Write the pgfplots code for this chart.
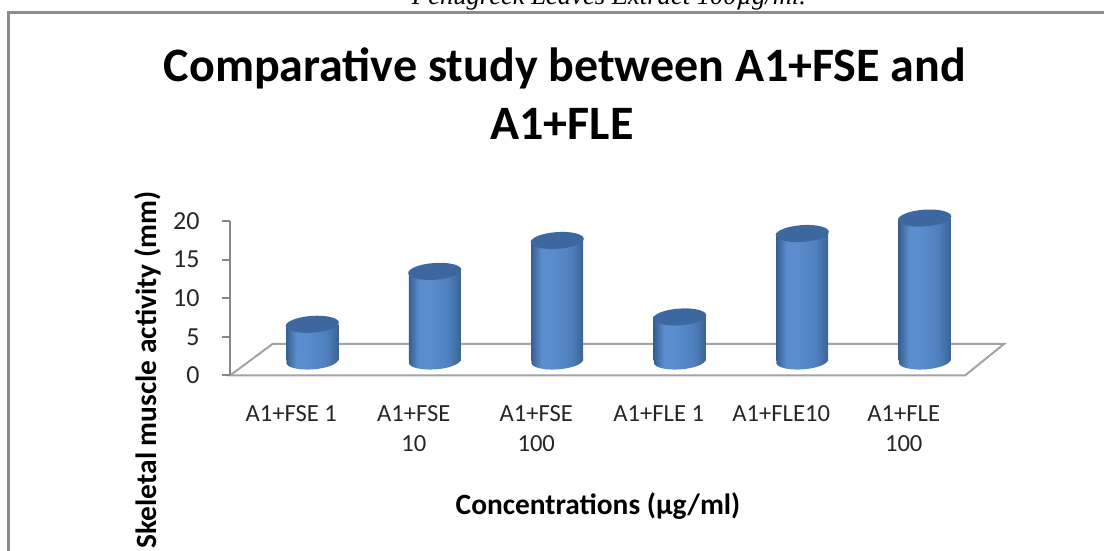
\documentclass[border=0pt]{standalone}
\usepackage{pgfplots}
\pgfplotsset{compat=1.18}
\usepackage{fontspec}
\setmainfont{Carlito}
\newfontfamily\capfont{Liberation Serif}
\definecolor{axgray}{HTML}{878787}
\definecolor{floorgray}{HTML}{A3A3A3}
\definecolor{framegray}{HTML}{8C8C8C}
\definecolor{cyltopc}{HTML}{3D689F}
\definecolor{cedgeL}{HTML}{385F91}
\definecolor{chigh}{HTML}{5A8DCE}
\definecolor{cmid}{HTML}{4F80BE}
\definecolor{cedgeR}{HTML}{3A6395}
\pgfdeclarehorizontalshading{cylshade}{100bp}{color(0bp)=(cedgeL); color(25bp)=(cedgeL); color(35bp)=(chigh); color(45bp)=(chigh); color(63bp)=(cmid); color(75bp)=(cedgeR); color(100bp)=(cedgeR)}
\pgfdeclareplotmark{cyltop}{%
  \pgfpathellipse{\pgfpointorigin}{\pgfpointpolar{4}{13.3pt}}{\pgfpointpolar{94}{4.2pt}}%
  \pgfusepath{fill}}
\pgfdeclareplotmark{cylbot}{%
  \pgfpathellipse{\pgfpointorigin}{\pgfpointpolar{4}{13pt}}{\pgfpointpolar{94}{4.2pt}}%
  \pgfshadepath{cylshade}{0}\pgfusepath{discard}}
\pgfplotstableread{
x y
0 4.75
1 11.6
2 15.6
3 5.7
4 16.5
5 18.5
}\bars
\pgfplotstableread{
x y
0 0
1 0
2 0
3 0
4 0
5 0
}\base
\begin{document}
\begin{tikzpicture}
\useasboundingbox (0,0) rectangle (552pt,275.5pt);
\clip (0,0) rectangle (552pt,275.5pt);
% caption (cut off at top, as in the source)
\node[anchor=base, inner sep=0pt, font=\capfont\itshape\fontsize{13.3}{15}\selectfont] at (304.5pt,273pt) {Fenugreek Leaves Extract 100µg/ml.};
% frame
\draw[framegray, line width=1.2pt] (4.25pt,-10pt) -- (4.25pt,269.25pt) -- (570pt,269.25pt);
% title
\node[anchor=base, inner sep=0pt, font=\bfseries\fontsize{24}{29}\selectfont] at (282.5pt,234.5pt) {Comparative study between A1+FSE and};
\node[anchor=base, inner sep=0pt, font=\bfseries\fontsize{24}{29}\selectfont] at (281pt,205.5pt) {A1+FLE};
% floor
\draw[floorgray, line width=1pt, line join=miter] (115pt,87.75pt) -- (136.25pt,103.5pt) -- (502pt,103.5pt) -- (482.5pt,87.75pt) -- cycle;
% main axis
\begin{axis}[
  at={(115pt,87.75pt)}, anchor=south west,
  scale only axis, width=367.5pt, height=77.25pt,
  xmin=-0.5, xmax=5.5, ymin=0, ymax=20,
  axis x line*=bottom, axis y line*=left,
  x axis line style={draw=none},
  y axis line style={axgray, line width=1pt},
  ytick={0,5,10,15,20},
  tick align=outside,
  major tick length=4pt,
  ytick style={axgray, line width=1pt},
  xtick={0,1,2,3,4,5},
  xtick style={draw=none},
  xticklabels={A1+FSE 1, A1+FSE\\10, A1+FSE\\100, A1+FLE 1, A1+FLE10, A1+FLE\\100},
  xticklabel style={align=center, anchor=north, inner sep=0pt, yshift=-11pt, font=\fontsize{12.3}{15}\selectfont, text=black!85},
  yticklabel style={anchor=east, inner sep=0pt, xshift=-11pt, font=\fontsize{13}{15}\selectfont, text=black!85},
  /pgf/number format/assume math mode=true,
  ytick pos=left,
  clip=false,
]
\addplot[draw=none, forget plot] coordinates {(0,0)};
\end{axis}
% bars axis (cylinders, set slightly behind the front edge)
\begin{axis}[
  at={(125.5pt,95pt)}, anchor=south west,
  scale only axis, width=367.5pt, height=77.25pt,
  xmin=-0.5, xmax=5.5, ymin=0, ymax=20,
  hide axis, clip=false,
  every axis plot/.append style={bar shift=0pt},
  cylbar/.style={ybar, bar width=26pt, bar shift=0pt, draw=none, shade, shading=cylshade},
]
\addplot[only marks, mark=cylbot] table[x=x,y=y] {\base};
\addplot[cylbar] coordinates {(0,4.75)};
\addplot[cylbar] coordinates {(1,11.6)};
\addplot[cylbar] coordinates {(2,15.6)};
\addplot[cylbar] coordinates {(3,5.7)};
\addplot[cylbar] coordinates {(4,16.5)};
\addplot[cylbar] coordinates {(5,18.5)};
\addplot[only marks, mark=cyltop, mark options={fill=cyltopc, draw=none}] table[x=x,y=y] {\bars};
\end{axis}
% axis titles
\node[rotate=90, anchor=center, inner sep=0pt, font=\bfseries\fontsize{14.7}{17}\selectfont] at (74pt,90.5pt) {Skeletal muscle activity (mm)};
\node[anchor=center, inner sep=0pt, font=\bfseries\fontsize{14.7}{17}\selectfont] at (299pt,22.5pt) {Concentrations (µg/ml)};
\end{tikzpicture}
\end{document}
